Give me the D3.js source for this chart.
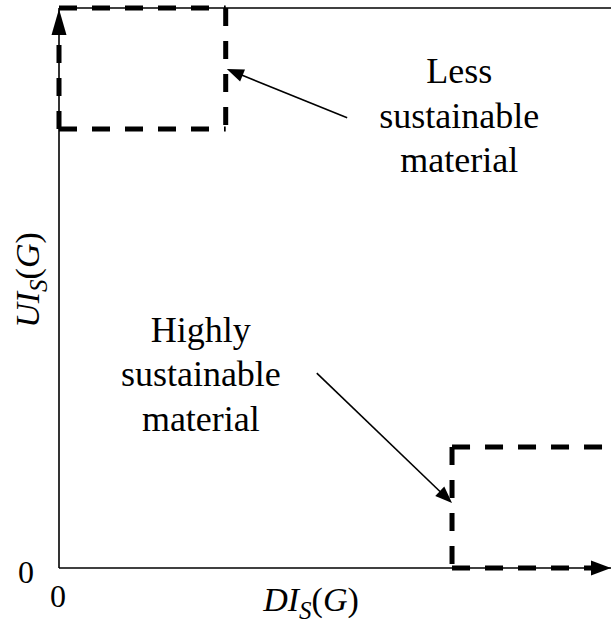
<!DOCTYPE html>
<html>
<head>
<meta charset="utf-8">
<script src="https://cdn.jsdelivr.net/npm/d3@7"></script>
<style>
  html, body { margin: 0; padding: 0; background: #fff; }
  svg { display: block; }
</style>
</head>
<body>
<div id="chart"></div>
<script>
// ---- data (conceptual chart, unit domain) ----
const xDomain = [0, 1];
const yDomain = [0, 1];
const xTickLabels = ["0"];
const yTickLabels = ["0"];
// region boxes: [x0, x1, y0, y1]
const lessBox = [0, 0.302, 0.784, 1];
const highBox = [0.712, 1, 0, 0.216];
// annotation arrows: from [x, y] to [x, y]
const lessArrow = [[0.522, 0.804], [0.304, 0.891]];
const highArrow = [[0.467, 0.348], [0.712, 0.116]];
// annotation labels
const lessLabel = ["Less", "sustainable", "material"];
const highLabel = ["Highly", "sustainable", "material"];
const lessLabelPos = [0.725, 0.866];
const highLabelPos = [0.257, 0.404];

const FONT = "'Liberation Serif', 'Times New Roman', Times, Tinos, 'DejaVu Serif', serif";
const W = 611, H = 622;
const svg = d3.select("#chart").append("svg").attr("width", W).attr("height", H)
  .attr("font-family", FONT);

const x = d3.scaleLinear().domain(xDomain).range([59, 611]);
const y = d3.scaleLinear().domain(yDomain).range([568, 8]);

const thin = 1.6, thick = 5, dash = "18,15";

const g = svg.append("g");
g.append("line").attr("x1", x(0)).attr("x2", x(0)).attr("y1", y(1)).attr("y2", y(0))
  .attr("stroke", "#000").attr("stroke-width", thin);
g.append("line").attr("x1", x(0)).attr("x2", x(1)).attr("y1", y(0)).attr("y2", y(0))
  .attr("stroke", "#000").attr("stroke-width", thin);
g.append("line").attr("x1", x(0)).attr("x2", x(1)).attr("y1", y(1)).attr("y2", y(1))
  .attr("stroke", "#000").attr("stroke-width", thin);

function dashed(x1, y1, x2, y2) {
  g.append("line").attr("x1", x1).attr("y1", y1).attr("x2", x2).attr("y2", y2)
    .attr("stroke", "#000").attr("stroke-width", thick)
    .attr("stroke-dasharray", dash).attr("stroke-linecap", "butt");
}
function tri(tipX, tipY, dx, dy, len, half) {
  const bx = tipX - dx * len, by = tipY - dy * len;
  const px = -dy * half, py = dx * half;
  g.append("path")
    .attr("d", `M${tipX},${tipY}L${bx + px},${by + py}L${bx - px},${by - py}Z`)
    .attr("fill", "#000");
}

{
  const [a, b, c, d] = lessBox;
  dashed(x(a), y(d), x(b), y(d));
  dashed(x(b), y(d), x(b), y(c));
  dashed(x(a), y(c), x(b), y(c));
  dashed(x(a), y(c), x(a), y(d) + 25);
  tri(x(a), y(d) + 1, 0, -1, 26, 7.5);
}
{
  const [a, b, c, d] = highBox;
  dashed(x(a), y(d), x(b), y(d));
  dashed(x(a), y(d), x(a), y(c));
  dashed(x(a), y(c), x(b) - 19, y(c));
  tri(x(b), y(c), 1, 0, 20, 7.5);
}

function annot(arr) {
  const [[x1, y1], [x2, y2]] = arr;
  const X1 = x(x1), Y1 = y(y1), X2 = x(x2), Y2 = y(y2);
  const L = Math.hypot(X2 - X1, Y2 - Y1);
  const ux = (X2 - X1) / L, uy = (Y2 - Y1) / L;
  g.append("line").attr("x1", X1).attr("y1", Y1)
    .attr("x2", X2 - ux * 12).attr("y2", Y2 - uy * 12)
    .attr("stroke", "#000").attr("stroke-width", 1.6);
  tri(X2, Y2, ux, uy, 17, 6.5);
}
annot(lessArrow);
annot(highArrow);

function label(lines, pos) {
  const t = svg.append("text").attr("text-anchor", "middle").attr("font-size", 36)
    .attr("font-family", FONT).attr("fill", "#000");
  lines.forEach((s, i) => {
    t.append("tspan").attr("x", x(pos[0])).attr("y", y(pos[1]) + i * 44.5).text(s);
  });
}
label(lessLabel, lessLabelPos);
label(highLabel, highLabelPos);

svg.append("text").attr("x", x(0) - 1).attr("y", y(0) + 39).attr("text-anchor", "middle")
  .attr("font-family", FONT).attr("font-size", 32).text(xTickLabels[0]);
svg.append("text").attr("x", 26).attr("y", y(0) + 15).attr("text-anchor", "middle")
  .attr("font-family", FONT).attr("font-size", 32).text(yTickLabels[0]);

function axisTitle(main, sub, rest) {
  return t => {
    t.append("tspan").attr("font-style", "italic").text(main);
    t.append("tspan").attr("font-style", "italic").attr("font-size", 25).attr("dy", 8).text(sub);
    t.append("tspan").attr("dy", -8).text("(");
    t.append("tspan").attr("font-style", "italic").text(rest);
    t.append("tspan").text(")");
  };
}
svg.append("text").attr("x", 311).attr("y", 611).attr("text-anchor", "middle")
  .attr("font-family", FONT).attr("font-size", 34).call(axisTitle("DI", "S", "G"));
svg.append("text").attr("transform", "translate(39,280) rotate(-90)").attr("text-anchor", "middle")
  .attr("font-family", FONT).attr("font-size", 34).call(axisTitle("UI", "S", "G"));
</script>
</body>
</html>
